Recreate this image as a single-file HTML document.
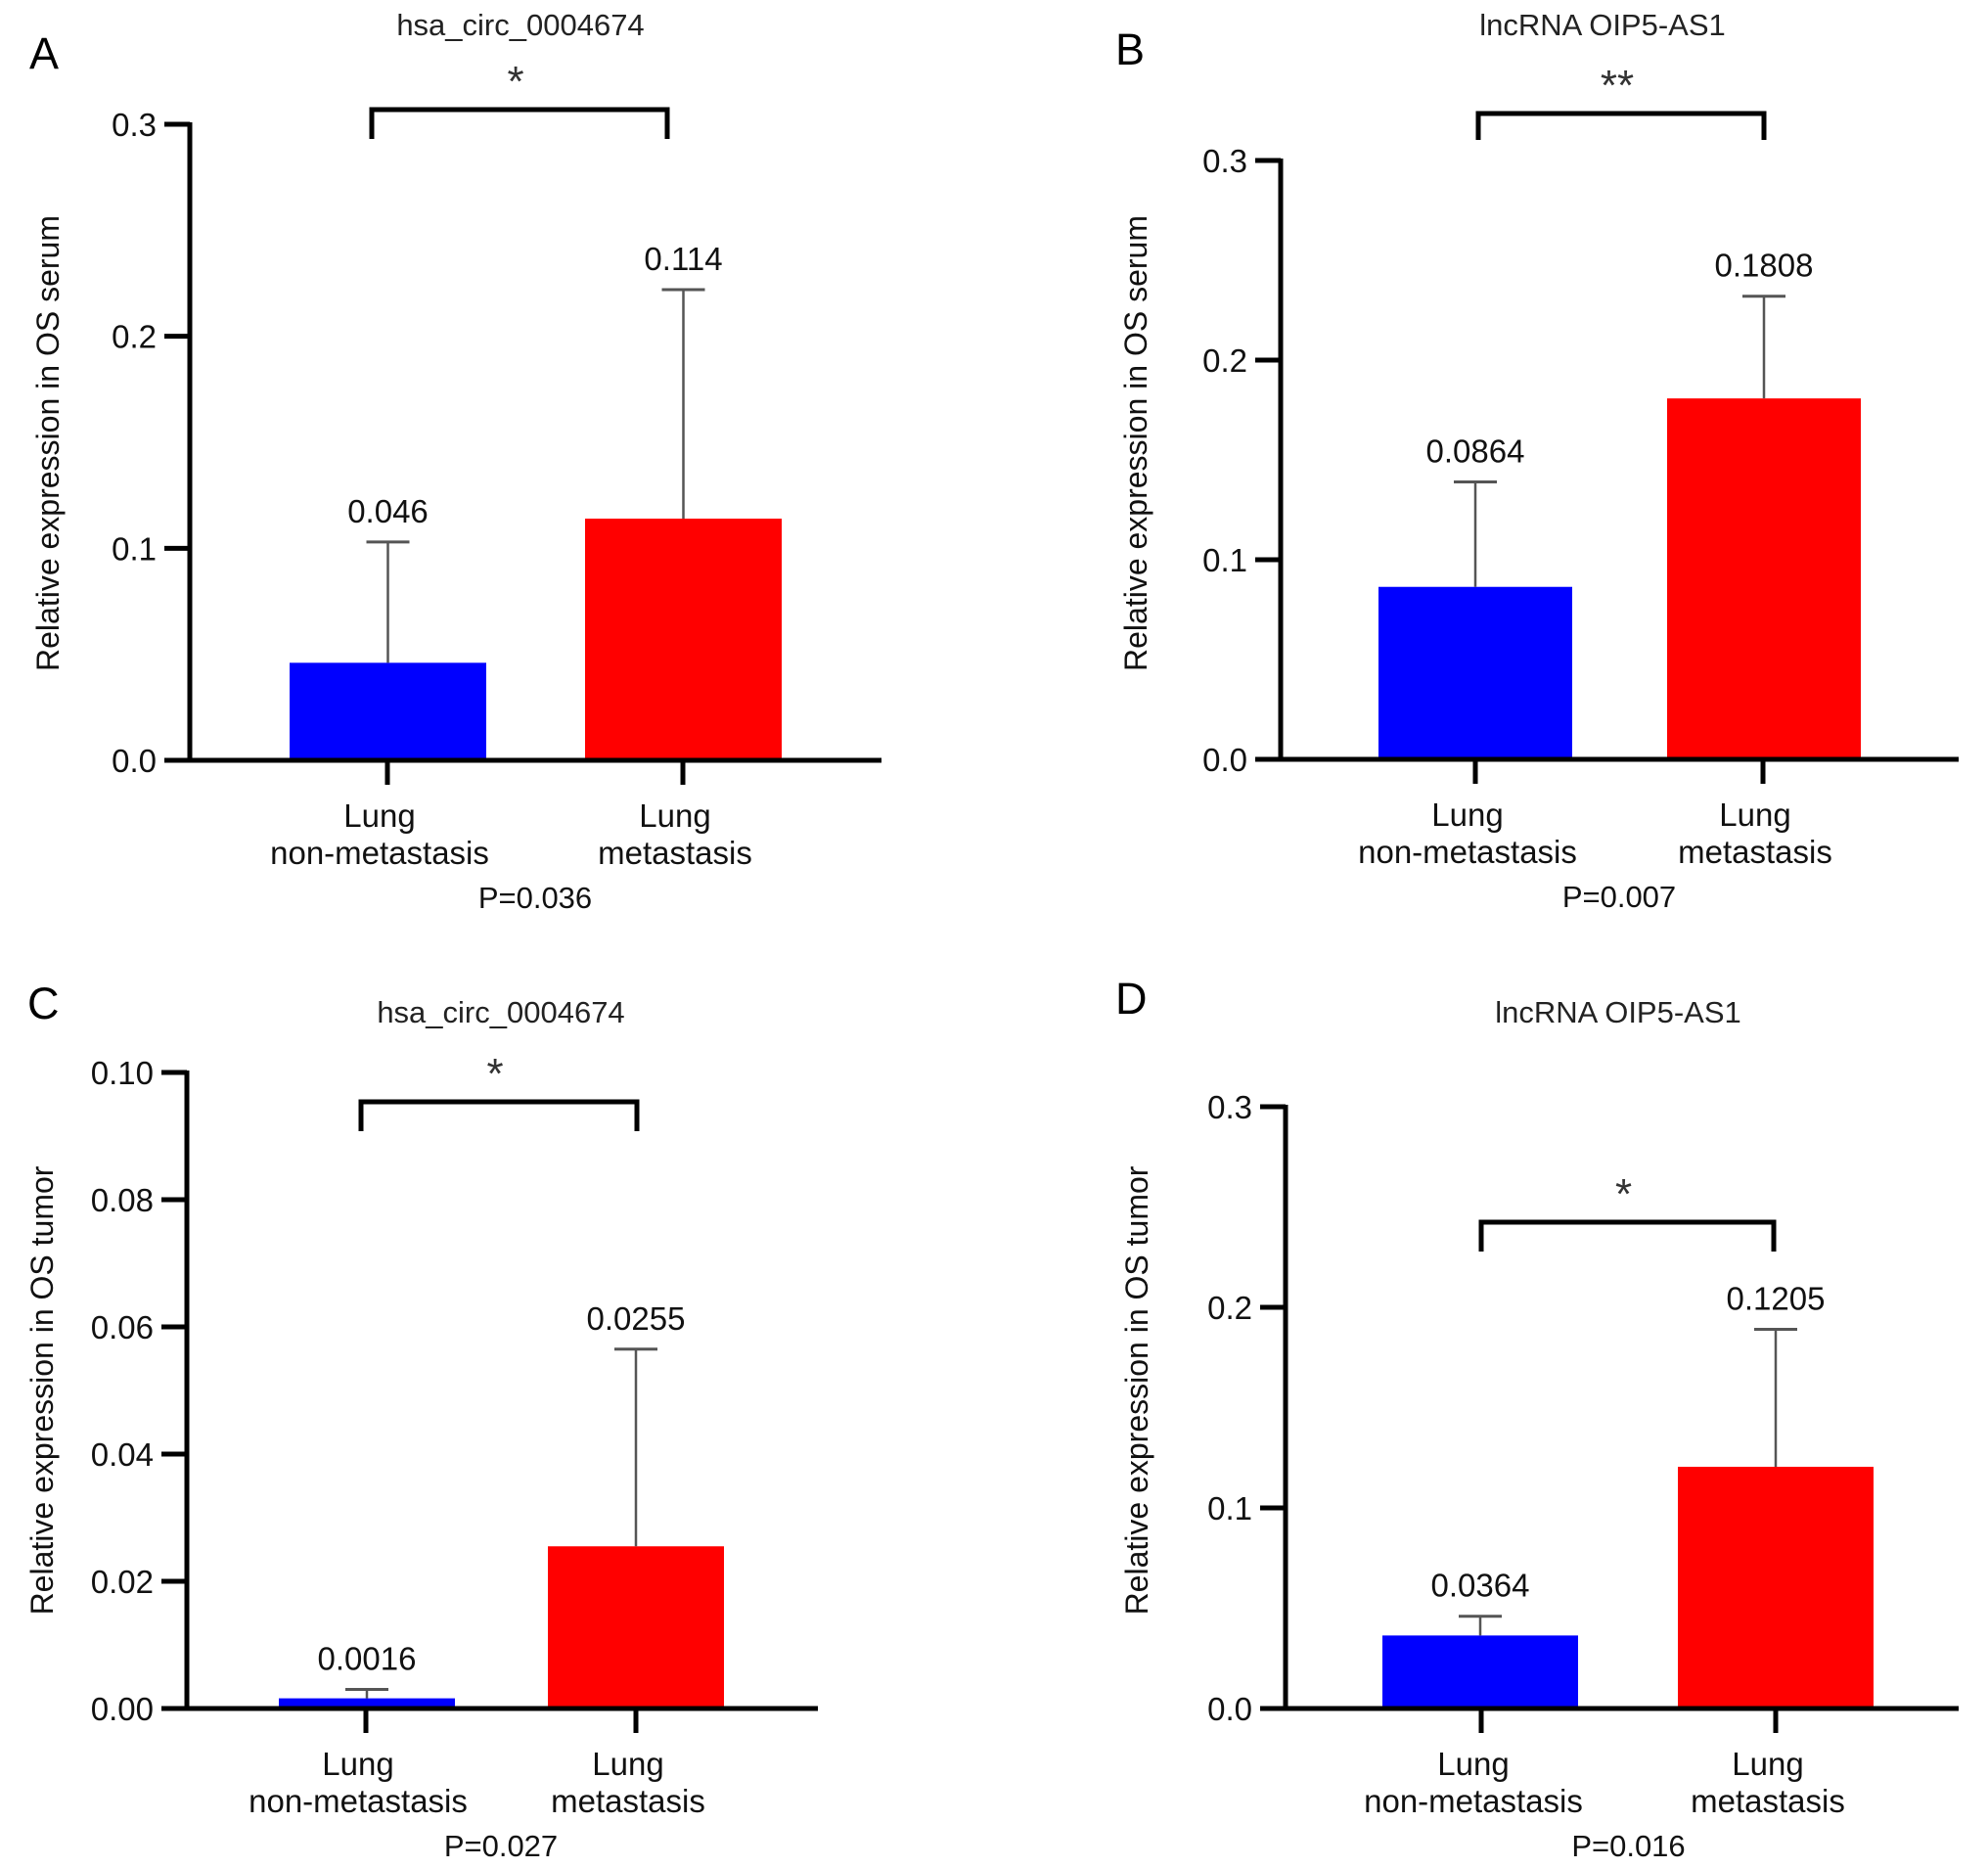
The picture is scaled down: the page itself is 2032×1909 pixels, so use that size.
<!DOCTYPE html>
<html><head><meta charset="utf-8">
<style>
html,body{margin:0;padding:0;background:#fff;}
svg{display:block;font-family:"Liberation Sans",Arial,sans-serif;}
</style></head>
<body>
<svg id="fig" width="2032" height="1909" viewBox="0 0 2032 1909" xmlns="http://www.w3.org/2000/svg"></svg>
<script>
const categories = ["Lung non-metastasis", "Lung metastasis"];
const meansA = [0.046, 0.114];
const errTopA = [0.103, 0.222];
const labelsA = ["0.046", "0.114"];
const ticksA = [0, 0.1, 0.2, 0.3];
const tickLabelsA = ["0.0", "0.1", "0.2", "0.3"];
const meansB = [0.0864, 0.1808];
const errTopB = [0.139, 0.232];
const labelsB = ["0.0864", "0.1808"];
const ticksB = [0, 0.1, 0.2, 0.3];
const tickLabelsB = ["0.0", "0.1", "0.2", "0.3"];
const meansC = [0.0016, 0.0255];
const errTopC = [0.003, 0.0565];
const labelsC = ["0.0016", "0.0255"];
const ticksC = [0, 0.02, 0.04, 0.06, 0.08, 0.10];
const tickLabelsC = ["0.00", "0.02", "0.04", "0.06", "0.08", "0.10"];
const meansD = [0.0364, 0.1205];
const errTopD = [0.046, 0.189];
const labelsD = ["0.0364", "0.1205"];
const ticksD = [0, 0.1, 0.2, 0.3];
const tickLabelsD = ["0.0", "0.1", "0.2", "0.3"];

const NS = "http://www.w3.org/2000/svg";
const svg = document.getElementById("fig");
function el(tag, attrs, parent, text) {
  const e = document.createElementNS(NS, tag);
  for (const k in attrs) e.setAttribute(k, attrs[k]);
  if (text !== undefined) e.textContent = text;
  (parent || svg).appendChild(e);
  return e;
}

function panel(p, means, errTop, labels, ticks, tickLabels) {
  const g = el("g", {});
  
  
  const y = v => p.y0 - (v - ticks[0]) / (ticks[ticks.length - 1] - ticks[0]) * (p.y0 - p.yTop);
  const colors = ["#0000ff", "#ff0000"];

  const L = el("text", {x: p.lx, y: p.ly, "font-size": 45, fill: "#000"}, g, p.letter);
  
  
  const T = el("text", {x: p.tx, y: p.ty, "font-size": 31, "text-anchor": "middle", fill: "#222"}, g, p.title);
  
  

  for (let i = 0; i < means.length; i++) {
    const b = el("rect", {x: p.bx[i], y: y(means[i]), width: p.bw, height: p.y0 - y(means[i]), fill: colors[i]}, g);
    
    
    const cx = p.bx[i] + p.bw / 2;
    const e1 = el("line", {x1: cx, x2: cx, y1: y(means[i]), y2: y(errTop[i]), stroke: "#555", "stroke-width": 2.5}, g);
    
    
    const e2 = el("line", {x1: cx - 22, x2: cx + 22, y1: y(errTop[i]), y2: y(errTop[i]), stroke: "#555", "stroke-width": 3}, g);
    
    
    const vl = el("text", {x: cx, y: y(errTop[i]) - 20, "font-size": 33, "text-anchor": "middle", fill: "#111"}, g, labels[i]);
    
    
    const ct = el("line", {x1: p.cx[i], x2: p.cx[i], y1: p.y0, y2: p.y0 + 25, stroke: "#000", "stroke-width": 5}, g);
    
    
    const c1 = el("text", {x: p.cx[i] - 8, y: p.y0 + 68, "font-size": 33, "text-anchor": "middle", fill: "#111"}, g, "Lung");
    
    
    const c2 = el("text", {x: p.cx[i] - 8, y: p.y0 + 106, "font-size": 33, "text-anchor": "middle", fill: "#111"}, g, i === 0 ? "non-metastasis" : "metastasis");
    
    
  }

  const ya = el("line", {x1: p.ax, x2: p.ax, y1: p.yTop - 2, y2: p.y0 + 2, stroke: "#000", "stroke-width": 5}, g);
  
  
  const xa = el("line", {x1: p.ax - 26, x2: p.xEnd, y1: p.y0, y2: p.y0, stroke: "#000", "stroke-width": 5}, g);
  
  
  for (let i = 0; i < ticks.length; i++) {
    const t = el("line", {x1: p.ax - 26, x2: p.ax, y1: y(ticks[i]), y2: y(ticks[i]), stroke: "#000", "stroke-width": 5}, g);
    
    
    const tl = el("text", {x: p.ax - 34, y: y(ticks[i]) + 12, "font-size": 33, "text-anchor": "end", fill: "#111"}, g, tickLabels[i]);
    
    
  }
  const yt = el("text", {x: 0, y: 0, "font-size": 32, "text-anchor": "middle", fill: "#111",
    transform: "translate(" + p.ytx + "," + p.yty + ") rotate(-90)"}, g, p.ytitle);
  
  

  const br = el("path", {d: "M" + p.brx[0] + "," + p.brLeg + " V" + p.bry + " H" + p.brx[1] + " V" + p.brLeg, fill: "none", stroke: "#000", "stroke-width": 5}, g);
  
  
  const st = el("text", {x: (p.brx[0] + p.brx[1]) / 2 - 4, y: p.bry - 14, "font-size": 44, "text-anchor": "middle", fill: "#333"}, g, p.star);
  
  
  const pv = el("text", {x: (p.cx[0] + p.cx[1]) / 2, y: p.y0 + 151, "font-size": 31, "text-anchor": "middle", fill: "#111"}, g, p.pval);
  
  
}

panel({letter: "A", lx: 30, ly: 70, title: "hsa_circ_0004674", tx: 532, ty: 36,
  ax: 194, y0: 777, yTop: 127, xEnd: 901, bx: [296, 598], bw: 201, cx: [396, 698],
  ytitle: "Relative expression in OS serum", ytx: 60, yty: 453,
  brx: [380, 682], bry: 112, brLeg: 142, star: "*", pval: "P=0.036"},
  meansA, errTopA, labelsA, ticksA, tickLabelsA);
panel({letter: "B", lx: 1140, ly: 66, title: "lncRNA OIP5-AS1", tx: 1638, ty: 36,
  ax: 1309, y0: 776, yTop: 164, xEnd: 2002, bx: [1409, 1704], bw: 198, cx: [1508, 1802],
  ytitle: "Relative expression in OS serum", ytx: 1172, yty: 453,
  brx: [1511, 1803], bry: 116, brLeg: 143, star: "**", pval: "P=0.007"},
  meansB, errTopB, labelsB, ticksB, tickLabelsB);
panel({letter: "C", lx: 28, ly: 1041, title: "hsa_circ_0004674", tx: 512, ty: 1045,
  ax: 191, y0: 1746, yTop: 1096, xEnd: 836, bx: [285, 560], bw: 180, cx: [374, 650],
  ytitle: "Relative expression in OS tumor", ytx: 54, yty: 1421,
  brx: [369, 651], bry: 1126, brLeg: 1156, star: "*", pval: "P=0.027"},
  meansC, errTopC, labelsC, ticksC, tickLabelsC);
panel({letter: "D", lx: 1140, ly: 1036, title: "lncRNA OIP5-AS1", tx: 1654, ty: 1045,
  ax: 1314, y0: 1746, yTop: 1131, xEnd: 2002, bx: [1413, 1715], bw: 200, cx: [1514, 1815],
  ytitle: "Relative expression in OS tumor", ytx: 1173, yty: 1421,
  brx: [1514, 1813], bry: 1249, brLeg: 1279, star: "*", pval: "P=0.016"},
  meansD, errTopD, labelsD, ticksD, tickLabelsD);
</script>
</body></html>
